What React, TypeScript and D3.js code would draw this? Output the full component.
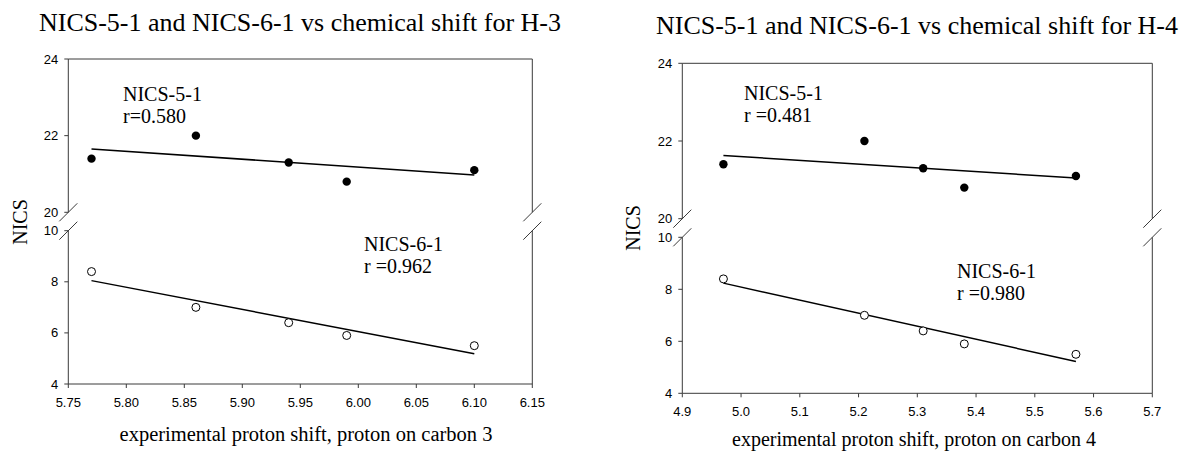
import * as d3 from "d3";

// measured NICS values (ppm) for the five compounds
const nics51 = [21.4, 22.0, 21.3, 20.8, 21.1];
const nics61 = [8.4, 7.0, 6.4, 5.9, 5.5];

// experimental proton shifts
const shiftH3 = [5.77, 5.86, 5.94, 5.99, 6.1];
const shiftH4 = [4.97, 5.21, 5.31, 5.38, 5.57];

const ticksH3 = [5.75, 5.8, 5.85, 5.9, 5.95, 6.0, 6.05, 6.1, 6.15];
const ticksH4 = [4.9, 5.0, 5.1, 5.2, 5.3, 5.4, 5.5, 5.6, 5.7];
const upperTicks = [20, 22, 24];
const lowerTicks = [4, 6, 8, 10];

const rH3 = ["r=0.580", "r =0.962"];
const rH4 = ["r =0.481", "r =0.980"];

const SERIF = "'Liberation Serif', 'Times New Roman', serif";
const SANS = "'Liberation Sans', Arial, sans-serif";
const AXIS = "#3a3a3a";

function fit(xs: number[], ys: number[]) {
  const mx = d3.mean(xs)!;
  const my = d3.mean(ys)!;
  const sxy = d3.sum(xs, (x, i) => (x - mx) * (ys[i] - my));
  const sxx = d3.sum(xs, (x) => (x - mx) ** 2);
  const b = sxy / sxx;
  return (x: number) => my + b * (x - mx);
}

type PanelProps = {
  title: string;
  xLabel: string;
  xs: number[];
  xTicks: number[];
  xFmt: string;
  rLabels: string[];
  left: number;
  right: number;
  top: number;
  brkHi: number;
  brkLo: number;
  bottom: number;
  title_: [number, number];
  xLab: [number, number, number];
  yLab: [number, number];
  note1: [number, number];
  note2: [number, number];
};

function Panel(p: PanelProps) {
  const x = d3.scaleLinear().domain(d3.extent(p.xTicks) as [number, number]).range([p.left, p.right]);
  const yHi = d3.scaleLinear().domain([20, 24]).range([p.brkHi, p.top]);
  const yLo = d3.scaleLinear().domain([4, 10]).range([p.bottom, p.brkLo]);
  const fmt = d3.format(p.xFmt);
  const [x0, x1] = d3.extent(p.xs) as [number, number];
  const f51 = fit(p.xs, nics51);
  const f61 = fit(p.xs, nics61);

  const brk = (xx: number, yy: number, k: string) => (
    <line key={k} x1={xx - 9} y1={yy + 9} x2={xx + 9} y2={yy - 9} stroke={AXIS} strokeWidth={1} />
  );

  return (
    <g>
      <text x={p.title_[0]} y={p.title_[1]} textAnchor="middle" fontFamily={SERIF} fontSize={26}>
        {p.title}
      </text>
      {/* frame with broken vertical axes */}
      <g stroke={AXIS} strokeWidth={1} fill="none">
        <line x1={p.left} y1={p.top} x2={p.right} y2={p.top} />
        <line x1={p.left} y1={p.bottom} x2={p.right} y2={p.bottom} />
        <line x1={p.left} y1={p.top} x2={p.left} y2={p.brkHi} />
        <line x1={p.left} y1={p.brkLo} x2={p.left} y2={p.bottom} />
        <line x1={p.right} y1={p.top} x2={p.right} y2={p.brkHi} />
        <line x1={p.right} y1={p.brkLo} x2={p.right} y2={p.bottom} />
      </g>
      {brk(p.left, p.brkHi, "a")}
      {brk(p.left, p.brkLo, "b")}
      {brk(p.right, p.brkHi, "c")}
      {brk(p.right, p.brkLo, "d")}
      {/* y ticks */}
      <g fontFamily={SANS} fontSize={13} textAnchor="end">
        {upperTicks.map((t) => (
          <g key={"u" + t}>
            <line x1={p.left - 4} x2={p.left} y1={yHi(t)} y2={yHi(t)} stroke={AXIS} />
            <text x={p.left - 10} y={yHi(t)} dy="0.35em">{t}</text>
          </g>
        ))}
        {lowerTicks.map((t) => (
          <g key={"l" + t}>
            <line x1={p.left - 4} x2={p.left} y1={yLo(t)} y2={yLo(t)} stroke={AXIS} />
            <text x={p.left - 10} y={yLo(t)} dy="0.35em">{t}</text>
          </g>
        ))}
      </g>
      {/* x ticks */}
      <g fontFamily={SANS} fontSize={13} textAnchor="middle">
        {p.xTicks.map((t) => (
          <g key={t}>
            <line x1={x(t)} x2={x(t)} y1={p.bottom} y2={p.bottom + 4} stroke={AXIS} />
            <text x={x(t)} y={p.bottom + 23}>{fmt(t)}</text>
          </g>
        ))}
      </g>
      <text x={p.xLab[0]} y={p.xLab[1]} textAnchor="middle" fontFamily={SERIF} fontSize={p.xLab[2]}>
        {p.xLabel}
      </text>
      <text
        transform={`translate(${p.yLab[0]},${p.yLab[1]}) rotate(-90)`}
        textAnchor="middle"
        fontFamily={SERIF}
        fontSize={20}
      >
        NICS
      </text>
      {/* regression lines */}
      <line x1={x(x0)} y1={yHi(f51(x0))} x2={x(x1)} y2={yHi(f51(x1))} stroke="#000" strokeWidth={1.5} />
      <line x1={x(x0)} y1={yLo(f61(x0))} x2={x(x1)} y2={yLo(f61(x1))} stroke="#000" strokeWidth={1.5} />
      {p.xs.map((v, i) => (
        <circle key={"f" + i} cx={x(v)} cy={yHi(nics51[i])} r={4.2} fill="#000" />
      ))}
      {p.xs.map((v, i) => (
        <circle key={"o" + i} cx={x(v)} cy={yLo(nics61[i])} r={4} fill="#fff" stroke="#000" strokeWidth={1} />
      ))}
      <g fontFamily={SERIF} fontSize={20}>
        <text x={p.note1[0]} y={p.note1[1]}>NICS-5-1</text>
        <text x={p.note1[0]} y={p.note1[1] + 22}>{p.rLabels[0]}</text>
        <text x={p.note2[0]} y={p.note2[1]}>NICS-6-1</text>
        <text x={p.note2[0]} y={p.note2[1] + 22}>{p.rLabels[1]}</text>
      </g>
    </g>
  );
}

export default function App() {
  return (
    <div style={{ position: "absolute", left: 0, top: 0 }}>
      <svg width={1182} height={453} style={{ display: "block", background: "#fff" }}>
        <Panel
          title="NICS-5-1 and NICS-6-1 vs chemical shift for H-3"
          xLabel="experimental proton shift, proton on carbon 3"
          xs={shiftH3}
          xTicks={ticksH3}
          xFmt=".2f"
          rLabels={rH3}
          left={68.3}
          right={532.3}
          top={59}
          brkHi={212.3}
          brkLo={230.7}
          bottom={384}
          title_={[300, 31]}
          xLab={[306, 441, 20.5]}
          yLab={[26.5, 222]}
          note1={[123, 101]}
          note2={[364, 251]}
        />
        <Panel
          title="NICS-5-1 and NICS-6-1 vs chemical shift for H-4"
          xLabel="experimental proton shift, proton on carbon 4"
          xs={shiftH4}
          xTicks={ticksH4}
          xFmt=".1f"
          rLabels={rH4}
          left={682.3}
          right={1152.3}
          top={63.3}
          brkHi={218.7}
          brkLo={237.3}
          bottom={393.3}
          title_={[917, 34]}
          xLab={[914, 446, 20]}
          yLab={[639.5, 228]}
          note1={[744, 100]}
          note2={[957, 278]}
        />
      </svg>
    </div>
  );
}
